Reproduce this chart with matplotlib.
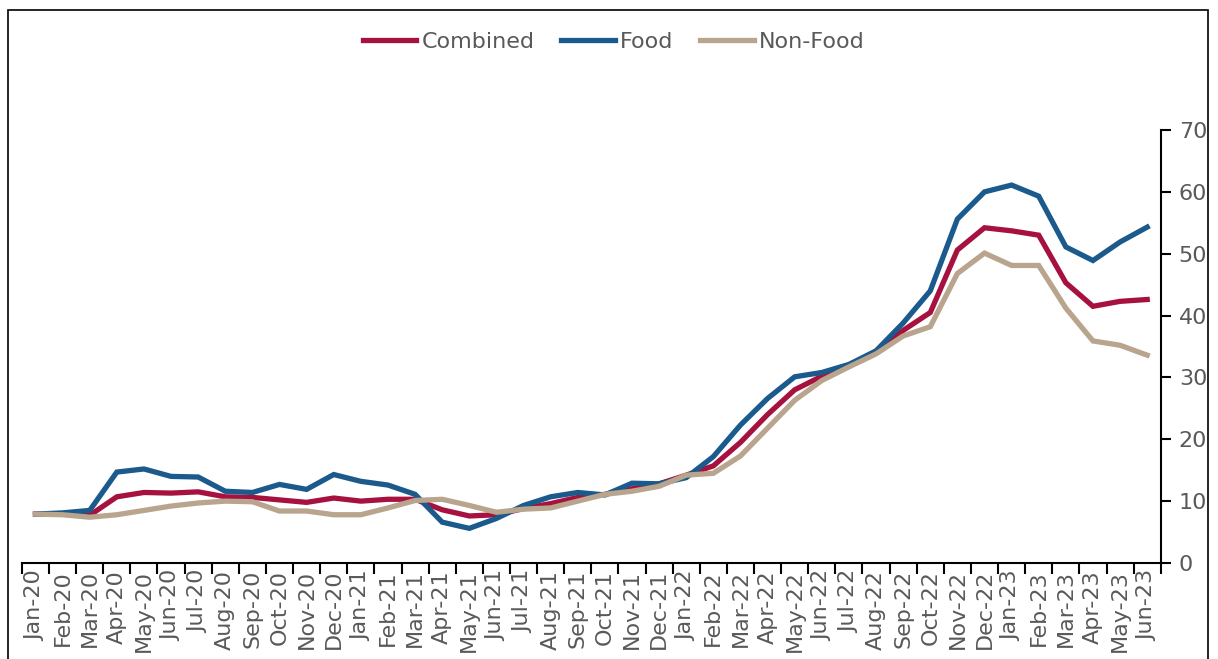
import matplotlib.pyplot as plt
from matplotlib.patches import Rectangle
from matplotlib.ticker import FixedLocator

months = ['Jan-20', 'Feb-20', 'Mar-20', 'Apr-20', 'May-20', 'Jun-20', 'Jul-20', 'Aug-20',
          'Sep-20', 'Oct-20', 'Nov-20', 'Dec-20', 'Jan-21', 'Feb-21', 'Mar-21', 'Apr-21',
          'May-21', 'Jun-21', 'Jul-21', 'Aug-21', 'Sep-21', 'Oct-21', 'Nov-21', 'Dec-21',
          'Jan-22', 'Feb-22', 'Mar-22', 'Apr-22', 'May-22', 'Jun-22', 'Jul-22', 'Aug-22',
          'Sep-22', 'Oct-22', 'Nov-22', 'Dec-22', 'Jan-23', 'Feb-23', 'Mar-23', 'Apr-23',
          'May-23', 'Jun-23']

combined = [7.9, 7.9, 7.7, 10.7, 11.4, 11.3, 11.5, 10.7, 10.6, 10.2, 9.8, 10.5,
            10.0, 10.3, 10.3, 8.6, 7.6, 7.8, 8.8, 9.6, 10.6, 11.1, 12.0, 12.8,
            14.2, 15.7, 19.5, 24.0, 28.0, 30.2, 32.0, 34.0, 37.6, 40.5, 50.6, 54.2,
            53.7, 53.0, 45.3, 41.5, 42.3, 42.6]
food = [7.9, 8.1, 8.5, 14.7, 15.2, 14.0, 13.9, 11.6, 11.4, 12.7, 11.9, 14.3,
        13.2, 12.6, 11.1, 6.6, 5.6, 7.2, 9.3, 10.7, 11.4, 11.0, 12.9, 12.8,
        13.8, 17.2, 22.3, 26.6, 30.1, 30.8, 32.1, 34.3, 38.8, 44.0, 55.6, 60.0,
        61.1, 59.3, 51.1, 48.9, 51.9, 54.3]
non_food = [7.9, 7.8, 7.4, 7.8, 8.5, 9.2, 9.7, 10.0, 9.9, 8.4, 8.4, 7.8,
            7.8, 8.9, 10.1, 10.3, 9.3, 8.2, 8.7, 8.9, 10.0, 11.1, 11.6, 12.4,
            14.2, 14.5, 17.3, 21.8, 26.3, 29.5, 31.7, 33.8, 36.7, 38.2, 46.8, 50.1,
            48.1, 48.1, 41.2, 35.9, 35.2, 33.6]

grey = '#595959'

fig = plt.figure(figsize=(12.18, 6.59), dpi=100)
ax = fig.add_axes([0.018, 0.1457, 0.935, 0.657])

x = list(range(len(months)))
ax.plot(x, combined, color='#A6113F', lw=3.8, label='Combined', solid_joinstyle='miter')
ax.plot(x, food, color='#1B5A8C', lw=3.8, label='Food', solid_joinstyle='miter')
ax.plot(x, non_food, color='#B9A48D', lw=3.8, label='Non-Food', solid_joinstyle='miter')

ax.set_xlim(-0.5, len(months) - 0.5)
ax.set_ylim(0, 70)

# y axis on the right
ax.yaxis.tick_right()
ax.set_yticks(range(0, 71, 10))
ax.tick_params(axis='y', direction='out', length=7, width=1.5, colors='black',
               labelcolor=grey, labelsize=16, pad=6)

# category labels at centres, tick marks between categories
ax.set_xticks(x)
ax.set_xticklabels(months, rotation=90, fontsize=16, color=grey)
ax.tick_params(axis='x', which='major', length=0, pad=5)
ax.xaxis.set_minor_locator(FixedLocator([i - 0.5 for i in range(len(months) + 1)]))
ax.tick_params(axis='x', which='minor', direction='out', length=8, width=1.5, color='black')

for s in ['top', 'left']:
    ax.spines[s].set_visible(False)
ax.spines['bottom'].set_linewidth(1.5)
ax.spines['right'].set_linewidth(1.5)

fig.legend(loc='center', bbox_to_anchor=(0.504, 0.936), ncol=3, frameon=False,
           fontsize=16, labelcolor=grey, handlelength=2.4, handletextpad=0.25,
           columnspacing=1.2)

# outer frame of the exhibit
fig.add_artist(Rectangle((8 / 1218, -0.02), 1200 / 1218, 1 - 10 / 659 + 0.02,
                         transform=fig.transFigure, fill=False, lw=1.2, edgecolor='black'))

plt.savefig('out.png', dpi=100)
